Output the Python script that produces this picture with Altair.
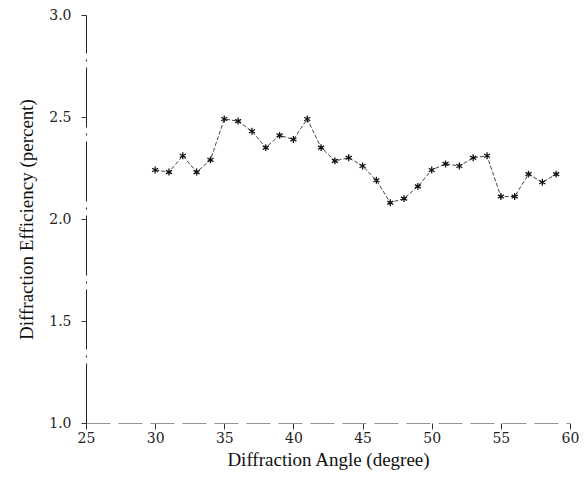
import altair as alt
import pandas as pd

angles = list(range(30, 60))
efficiency = [2.24, 2.23, 2.31, 2.23, 2.29, 2.49, 2.48, 2.43, 2.35, 2.41,
              2.39, 2.49, 2.35, 2.285, 2.30, 2.26, 2.19, 2.08, 2.10, 2.16,
              2.24, 2.27, 2.26, 2.30, 2.31, 2.11, 2.11, 2.22, 2.18, 2.22]
x_ticks = [25, 30, 35, 40, 45, 50, 55, 60]
y_ticks = [1.0, 1.5, 2.0, 2.5, 3.0]

df = pd.DataFrame({"angle": angles, "eff": efficiency})

LABEL_FONT = "DejaVu Serif"
TITLE_FONT = "Liberation Serif"
ASTERISK = "M0,-1L0,1M-0.87,-0.5L0.87,0.5M-0.87,0.5L0.87,-0.5"

x = alt.X("angle:Q",
          scale=alt.Scale(domain=[25, 60], nice=False, zero=False),
          axis=alt.Axis(values=x_ticks, title="Diffraction Angle (degree)",
                        format=".0f", grid=False, tickSize=6, labelPadding=2,
                        titlePadding=5, labelFlush=False, labelOverlap=False,
                        domainColor="#999", domainDash=[24, 8],
                        tickColor="#333"))
y = alt.Y("eff:Q",
          scale=alt.Scale(domain=[1.0, 3.0], nice=False, zero=False),
          axis=alt.Axis(values=y_ticks, title="Diffraction Efficiency (percent)",
                        format=".1f", grid=False, tickSize=5, labelPadding=10,
                        titlePadding=12, labelFlush=False, labelOverlap=False,
                        domainColor="#222", domainDash=[60, 6, 2, 6],
                        tickColor="#333"))

line = alt.Chart(df).mark_line(color="#444", strokeWidth=1, strokeDash=[4, 2]).encode(x=x, y=y)
pts = alt.Chart(df).mark_point(shape=ASTERISK, filled=False, color="#111",
                               strokeWidth=1.3, size=48, opacity=1).encode(x=x, y=y)

chart = (line + pts).properties(
    width=484, height=408,
    autosize=alt.AutoSizeParams(type="none"),
    padding={"left": 78, "top": 7, "right": 10, "bottom": 54},
).configure_view(stroke=None).configure_axis(
    labelFont=LABEL_FONT, titleFont=TITLE_FONT, labelFontSize=14, titleFontSize=19,
    titleFontWeight="normal", labelColor="#222", titleColor="#111",
)

chart.save("out.html", embed_options={"renderer": "svg", "actions": False})
